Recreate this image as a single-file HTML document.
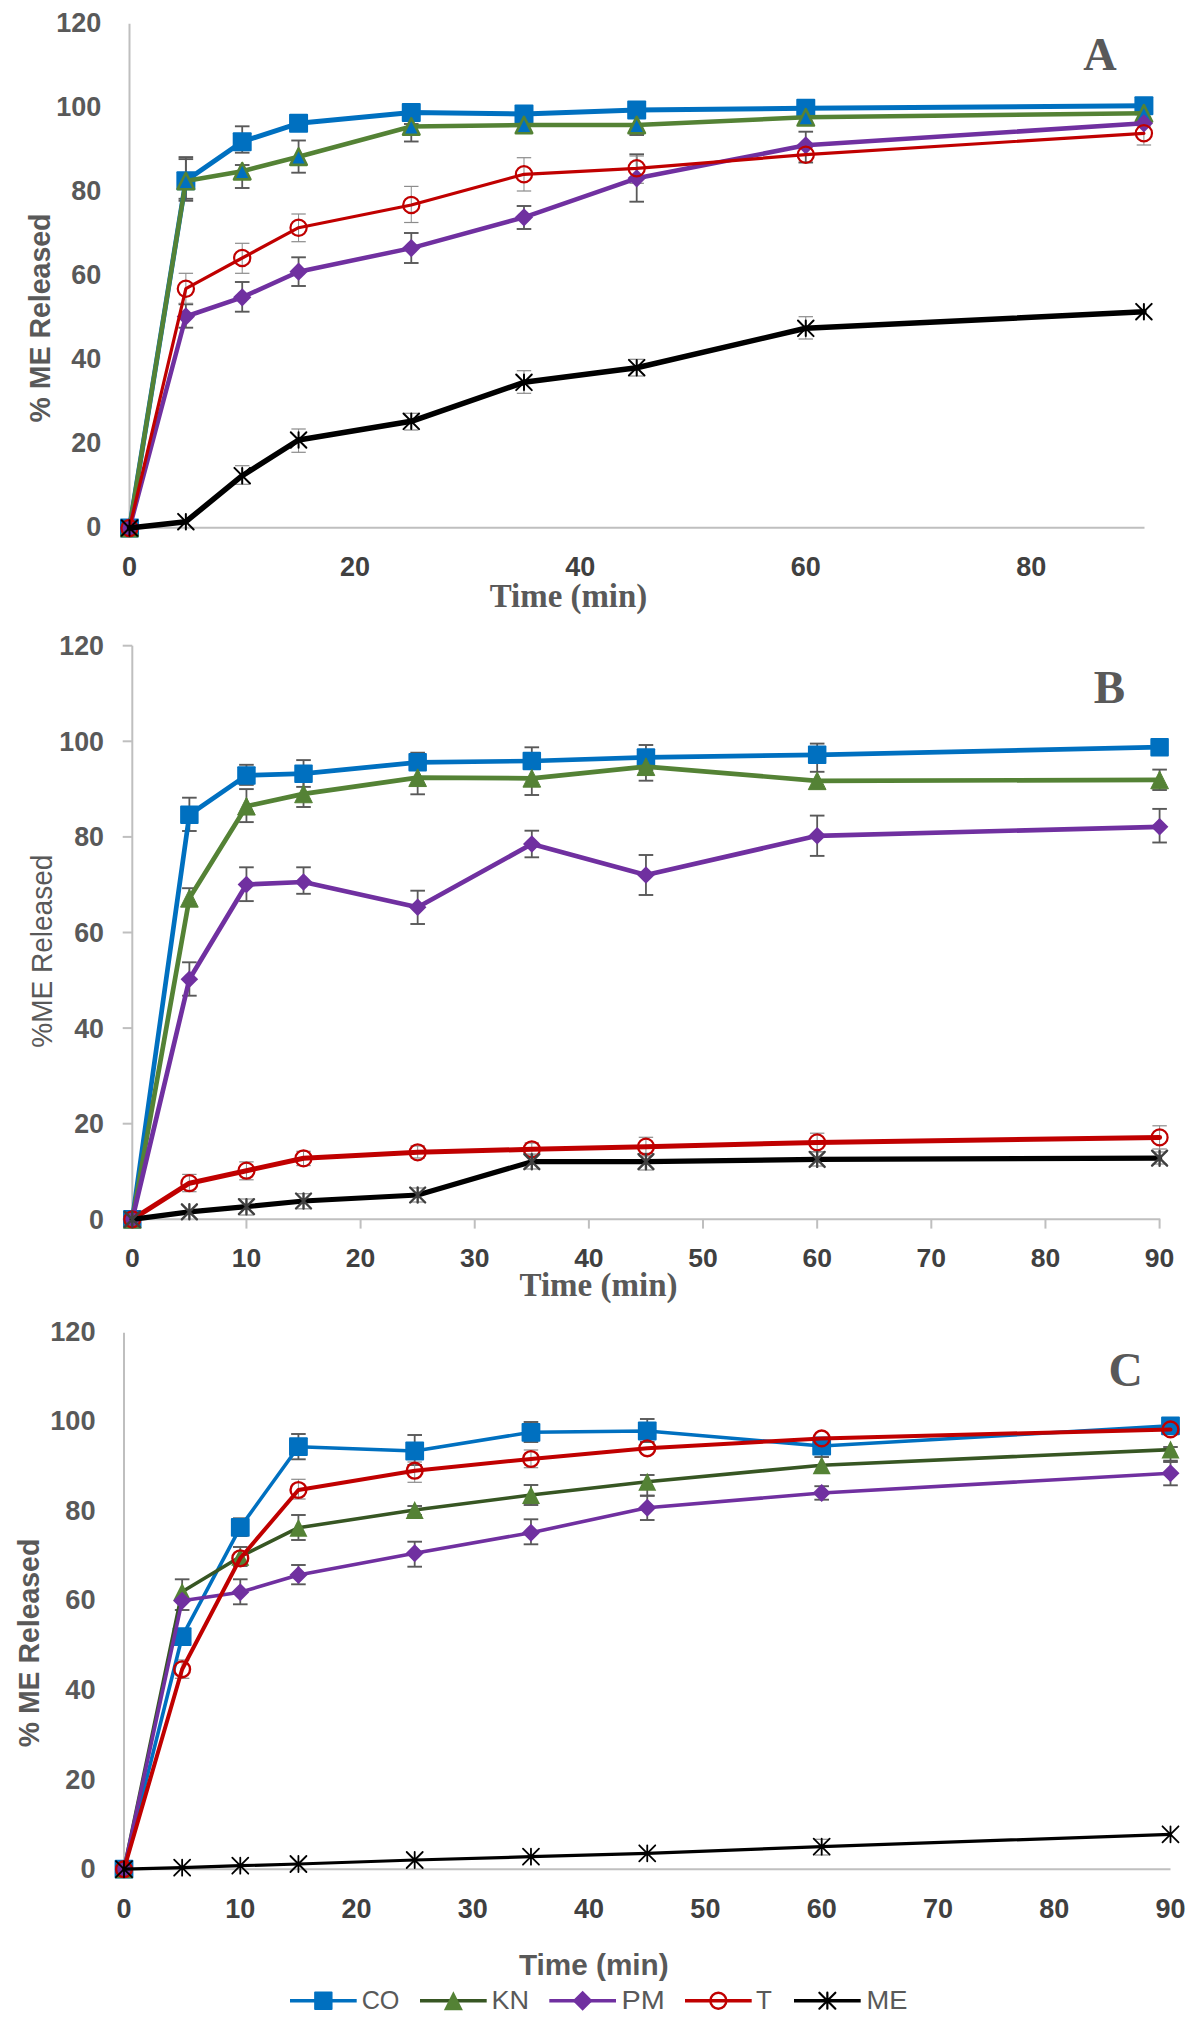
<!DOCTYPE html><html><head><meta charset="utf-8"><style>html,body{margin:0;padding:0;background:#fff;overflow:hidden;width:1194px;height:2026px;}svg{display:block;}</style></head><body>
<svg width="1194" height="2026" viewBox="0 0 1194 2026">
<rect width="1194" height="2026" fill="#ffffff"/>
<line x1="129.5" y1="23.8" x2="129.5" y2="528.8" stroke="#bfbfbf" stroke-width="2"/>
<line x1="128.5" y1="527.8" x2="1144.5" y2="527.8" stroke="#bfbfbf" stroke-width="2"/>
<text x="101.2" y="536.47" font-family='"Liberation Sans", sans-serif' font-size="27" font-weight="bold" fill="#595959" text-anchor="end" >0</text>
<text x="101.2" y="452.47" font-family='"Liberation Sans", sans-serif' font-size="27" font-weight="bold" fill="#595959" text-anchor="end" >20</text>
<text x="101.2" y="368.47" font-family='"Liberation Sans", sans-serif' font-size="27" font-weight="bold" fill="#595959" text-anchor="end" >40</text>
<text x="101.2" y="284.47" font-family='"Liberation Sans", sans-serif' font-size="27" font-weight="bold" fill="#595959" text-anchor="end" >60</text>
<text x="101.2" y="200.47" font-family='"Liberation Sans", sans-serif' font-size="27" font-weight="bold" fill="#595959" text-anchor="end" >80</text>
<text x="101.2" y="116.47" font-family='"Liberation Sans", sans-serif' font-size="27" font-weight="bold" fill="#595959" text-anchor="end" >100</text>
<text x="101.2" y="32.47" font-family='"Liberation Sans", sans-serif' font-size="27" font-weight="bold" fill="#595959" text-anchor="end" >120</text>
<text x="129.5" y="576.37" font-family='"Liberation Sans", sans-serif' font-size="27" font-weight="bold" fill="#404040" text-anchor="middle" >0</text>
<text x="354.92" y="576.37" font-family='"Liberation Sans", sans-serif' font-size="27" font-weight="bold" fill="#404040" text-anchor="middle" >20</text>
<text x="580.34" y="576.37" font-family='"Liberation Sans", sans-serif' font-size="27" font-weight="bold" fill="#404040" text-anchor="middle" >40</text>
<text x="805.77" y="576.37" font-family='"Liberation Sans", sans-serif' font-size="27" font-weight="bold" fill="#404040" text-anchor="middle" >60</text>
<text x="1031.19" y="576.37" font-family='"Liberation Sans", sans-serif' font-size="27" font-weight="bold" fill="#404040" text-anchor="middle" >80</text>
<text transform="translate(50.4 318) rotate(-90)" x="0" y="0" font-family='"Liberation Sans", sans-serif' font-size="29.3" font-weight="bold" fill="#595959" text-anchor="middle" textLength="209" lengthAdjust="spacingAndGlyphs">% ME Released</text>
<text x="568.5" y="607.3" font-family='"Liberation Serif", serif' font-size="32.9" font-weight="bold" fill="#595959" text-anchor="middle" >Time (min)</text>
<text x="1083.2" y="69.8" font-family='"Liberation Serif", serif' font-size="46.3" font-weight="bold" fill="#595959" text-anchor="start" >A</text>
<line x1="185.86" y1="157.1" x2="185.86" y2="200.8" stroke="#595959" stroke-width="1.8"/>
<rect x="178.56" y="156.15" width="14.6" height="1.9" fill="#595959"/>
<rect x="178.56" y="199.85" width="14.6" height="1.9" fill="#595959"/>
<line x1="242.21" y1="126.3" x2="242.21" y2="152.7" stroke="#595959" stroke-width="1.8"/>
<rect x="234.91" y="125.35" width="14.6" height="1.9" fill="#595959"/>
<rect x="234.91" y="151.75" width="14.6" height="1.9" fill="#595959"/>
<line x1="298.57" y1="117" x2="298.57" y2="130" stroke="#595959" stroke-width="1.8"/>
<rect x="291.27" y="116.05" width="14.6" height="1.9" fill="#595959"/>
<rect x="291.27" y="129.05" width="14.6" height="1.9" fill="#595959"/>
<line x1="185.86" y1="159.1" x2="185.86" y2="198.8" stroke="#595959" stroke-width="1.8"/>
<rect x="178.56" y="158.15" width="14.6" height="1.9" fill="#595959"/>
<rect x="178.56" y="197.85" width="14.6" height="1.9" fill="#595959"/>
<line x1="242.21" y1="165" x2="242.21" y2="188" stroke="#595959" stroke-width="1.8"/>
<rect x="234.91" y="164.05" width="14.6" height="1.9" fill="#595959"/>
<rect x="234.91" y="187.05" width="14.6" height="1.9" fill="#595959"/>
<line x1="298.57" y1="140.5" x2="298.57" y2="172.7" stroke="#595959" stroke-width="1.8"/>
<rect x="291.27" y="139.55" width="14.6" height="1.9" fill="#595959"/>
<rect x="291.27" y="171.75" width="14.6" height="1.9" fill="#595959"/>
<line x1="411.28" y1="124" x2="411.28" y2="141.5" stroke="#595959" stroke-width="1.8"/>
<rect x="403.98" y="123.05" width="14.6" height="1.9" fill="#595959"/>
<rect x="403.98" y="140.55" width="14.6" height="1.9" fill="#595959"/>
<line x1="636.7" y1="118" x2="636.7" y2="135" stroke="#595959" stroke-width="1.8"/>
<rect x="629.4" y="117.05" width="14.6" height="1.9" fill="#595959"/>
<rect x="629.4" y="134.05" width="14.6" height="1.9" fill="#595959"/>
<line x1="185.86" y1="304.3" x2="185.86" y2="327.7" stroke="#595959" stroke-width="1.8"/>
<rect x="178.56" y="303.35" width="14.6" height="1.9" fill="#595959"/>
<rect x="178.56" y="326.75" width="14.6" height="1.9" fill="#595959"/>
<line x1="242.21" y1="282" x2="242.21" y2="311.7" stroke="#595959" stroke-width="1.8"/>
<rect x="234.91" y="281.05" width="14.6" height="1.9" fill="#595959"/>
<rect x="234.91" y="310.75" width="14.6" height="1.9" fill="#595959"/>
<line x1="298.57" y1="257.3" x2="298.57" y2="286" stroke="#595959" stroke-width="1.8"/>
<rect x="291.27" y="256.35" width="14.6" height="1.9" fill="#595959"/>
<rect x="291.27" y="285.05" width="14.6" height="1.9" fill="#595959"/>
<line x1="411.28" y1="233" x2="411.28" y2="263" stroke="#595959" stroke-width="1.8"/>
<rect x="403.98" y="232.05" width="14.6" height="1.9" fill="#595959"/>
<rect x="403.98" y="262.05" width="14.6" height="1.9" fill="#595959"/>
<line x1="523.99" y1="206" x2="523.99" y2="229" stroke="#595959" stroke-width="1.8"/>
<rect x="516.69" y="205.05" width="14.6" height="1.9" fill="#595959"/>
<rect x="516.69" y="228.05" width="14.6" height="1.9" fill="#595959"/>
<line x1="636.7" y1="154.3" x2="636.7" y2="201.7" stroke="#595959" stroke-width="1.8"/>
<rect x="629.4" y="153.35" width="14.6" height="1.9" fill="#595959"/>
<rect x="629.4" y="200.75" width="14.6" height="1.9" fill="#595959"/>
<line x1="805.77" y1="131.7" x2="805.77" y2="162.5" stroke="#595959" stroke-width="1.8"/>
<rect x="798.47" y="130.75" width="14.6" height="1.9" fill="#595959"/>
<rect x="798.47" y="161.55" width="14.6" height="1.9" fill="#595959"/>
<line x1="185.86" y1="273.3" x2="185.86" y2="303.3" stroke="#8c8c8c" stroke-width="1"/>
<rect x="178.66" y="272.7" width="14.4" height="1.2" fill="#8c8c8c"/>
<rect x="178.66" y="302.7" width="14.4" height="1.2" fill="#8c8c8c"/>
<line x1="242.21" y1="243.3" x2="242.21" y2="273.3" stroke="#8c8c8c" stroke-width="1"/>
<rect x="235.01" y="242.7" width="14.4" height="1.2" fill="#8c8c8c"/>
<rect x="235.01" y="272.7" width="14.4" height="1.2" fill="#8c8c8c"/>
<line x1="298.57" y1="214" x2="298.57" y2="241.7" stroke="#8c8c8c" stroke-width="1"/>
<rect x="291.37" y="213.4" width="14.4" height="1.2" fill="#8c8c8c"/>
<rect x="291.37" y="241.1" width="14.4" height="1.2" fill="#8c8c8c"/>
<line x1="411.28" y1="186.4" x2="411.28" y2="222.5" stroke="#8c8c8c" stroke-width="1"/>
<rect x="404.08" y="185.8" width="14.4" height="1.2" fill="#8c8c8c"/>
<rect x="404.08" y="221.9" width="14.4" height="1.2" fill="#8c8c8c"/>
<line x1="523.99" y1="157.7" x2="523.99" y2="191" stroke="#8c8c8c" stroke-width="1"/>
<rect x="516.79" y="157.1" width="14.4" height="1.2" fill="#8c8c8c"/>
<rect x="516.79" y="190.4" width="14.4" height="1.2" fill="#8c8c8c"/>
<line x1="636.7" y1="156" x2="636.7" y2="183.3" stroke="#8c8c8c" stroke-width="1"/>
<rect x="629.5" y="155.4" width="14.4" height="1.2" fill="#8c8c8c"/>
<rect x="629.5" y="182.7" width="14.4" height="1.2" fill="#8c8c8c"/>
<line x1="1143.9" y1="126" x2="1143.9" y2="145" stroke="#8c8c8c" stroke-width="1"/>
<rect x="1136.7" y="125.4" width="14.4" height="1.2" fill="#8c8c8c"/>
<rect x="1136.7" y="144.4" width="14.4" height="1.2" fill="#8c8c8c"/>
<line x1="242.21" y1="465.7" x2="242.21" y2="484.3" stroke="#8c8c8c" stroke-width="1"/>
<rect x="235.01" y="465.1" width="14.4" height="1.2" fill="#8c8c8c"/>
<rect x="235.01" y="483.7" width="14.4" height="1.2" fill="#8c8c8c"/>
<line x1="298.57" y1="429" x2="298.57" y2="452.3" stroke="#8c8c8c" stroke-width="1"/>
<rect x="291.37" y="428.4" width="14.4" height="1.2" fill="#8c8c8c"/>
<rect x="291.37" y="451.7" width="14.4" height="1.2" fill="#8c8c8c"/>
<line x1="411.28" y1="413.3" x2="411.28" y2="430" stroke="#8c8c8c" stroke-width="1"/>
<rect x="404.08" y="412.7" width="14.4" height="1.2" fill="#8c8c8c"/>
<rect x="404.08" y="429.4" width="14.4" height="1.2" fill="#8c8c8c"/>
<line x1="523.99" y1="370.7" x2="523.99" y2="393.3" stroke="#8c8c8c" stroke-width="1"/>
<rect x="516.79" y="370.1" width="14.4" height="1.2" fill="#8c8c8c"/>
<rect x="516.79" y="392.7" width="14.4" height="1.2" fill="#8c8c8c"/>
<line x1="636.7" y1="359.3" x2="636.7" y2="376" stroke="#8c8c8c" stroke-width="1"/>
<rect x="629.5" y="358.7" width="14.4" height="1.2" fill="#8c8c8c"/>
<rect x="629.5" y="375.4" width="14.4" height="1.2" fill="#8c8c8c"/>
<line x1="805.77" y1="316.7" x2="805.77" y2="339" stroke="#8c8c8c" stroke-width="1"/>
<rect x="798.57" y="316.1" width="14.4" height="1.2" fill="#8c8c8c"/>
<rect x="798.57" y="338.4" width="14.4" height="1.2" fill="#8c8c8c"/>
<polyline points="129.5,528 185.86,180.7 242.21,141.7 298.57,123.3 411.28,112.5 523.99,114 636.7,110 805.77,108.3 1143.9,105.8" fill="none" stroke="#0070c0" stroke-width="5" stroke-linejoin="round" stroke-linecap="round"/>
<rect x="120" y="518.5" width="19" height="19" rx="1" fill="#0070c0"/>
<rect x="176.36" y="171.2" width="19" height="19" rx="1" fill="#0070c0"/>
<rect x="232.71" y="132.2" width="19" height="19" rx="1" fill="#0070c0"/>
<rect x="289.07" y="113.8" width="19" height="19" rx="1" fill="#0070c0"/>
<rect x="401.78" y="103" width="19" height="19" rx="1" fill="#0070c0"/>
<rect x="514.49" y="104.5" width="19" height="19" rx="1" fill="#0070c0"/>
<rect x="627.2" y="100.5" width="19" height="19" rx="1" fill="#0070c0"/>
<rect x="796.27" y="98.8" width="19" height="19" rx="1" fill="#0070c0"/>
<rect x="1134.4" y="96.3" width="19" height="19" rx="1" fill="#0070c0"/>
<polyline points="129.5,528 185.86,181 242.21,171.2 298.57,156.7 411.28,126.5 523.99,125 636.7,125 805.77,117.3 1143.9,113.3" fill="none" stroke="#548235" stroke-width="4.5" stroke-linejoin="round" stroke-linecap="round"/>
<polygon points="129.5,519.8 137.7,536.2 121.3,536.2" fill="#0070c0" stroke="#548235" stroke-width="2.6" stroke-linejoin="round"/>
<polygon points="185.86,172.8 194.06,189.2 177.66,189.2" fill="#0070c0" stroke="#548235" stroke-width="2.6" stroke-linejoin="round"/>
<polygon points="242.21,163 250.41,179.4 234.01,179.4" fill="#0070c0" stroke="#548235" stroke-width="2.6" stroke-linejoin="round"/>
<polygon points="298.57,148.5 306.77,164.9 290.37,164.9" fill="#0070c0" stroke="#548235" stroke-width="2.6" stroke-linejoin="round"/>
<polygon points="411.28,118.3 419.48,134.7 403.08,134.7" fill="#0070c0" stroke="#548235" stroke-width="2.6" stroke-linejoin="round"/>
<polygon points="523.99,116.8 532.19,133.2 515.79,133.2" fill="#0070c0" stroke="#548235" stroke-width="2.6" stroke-linejoin="round"/>
<polygon points="636.7,116.8 644.9,133.2 628.5,133.2" fill="#0070c0" stroke="#548235" stroke-width="2.6" stroke-linejoin="round"/>
<polygon points="805.77,109.1 813.97,125.5 797.57,125.5" fill="#0070c0" stroke="#548235" stroke-width="2.6" stroke-linejoin="round"/>
<polygon points="1143.9,105.1 1152.1,121.5 1135.7,121.5" fill="#0070c0" stroke="#548235" stroke-width="2.6" stroke-linejoin="round"/>
<polyline points="129.5,528 185.86,316.5 242.21,297.3 298.57,271.7 411.28,248.1 523.99,217.3 636.7,178.3 805.77,145.3 1143.9,123.3" fill="none" stroke="#7030a0" stroke-width="4.5" stroke-linejoin="round" stroke-linecap="round"/>
<polygon points="129.5,518.85 138.65,528 129.5,537.15 120.35,528" fill="#7030a0"/>
<polygon points="185.86,307.35 195.01,316.5 185.86,325.65 176.71,316.5" fill="#7030a0"/>
<polygon points="242.21,288.15 251.36,297.3 242.21,306.45 233.06,297.3" fill="#7030a0"/>
<polygon points="298.57,262.55 307.72,271.7 298.57,280.85 289.42,271.7" fill="#7030a0"/>
<polygon points="411.28,238.95 420.43,248.1 411.28,257.25 402.13,248.1" fill="#7030a0"/>
<polygon points="523.99,208.15 533.14,217.3 523.99,226.45 514.84,217.3" fill="#7030a0"/>
<polygon points="636.7,169.15 645.85,178.3 636.7,187.45 627.55,178.3" fill="#7030a0"/>
<polygon points="805.77,136.15 814.92,145.3 805.77,154.45 796.62,145.3" fill="#7030a0"/>
<polygon points="1143.9,114.15 1153.05,123.3 1143.9,132.45 1134.75,123.3" fill="#7030a0"/>
<polyline points="129.5,528 185.86,288.7 242.21,258 298.57,227.7 411.28,205 523.99,174.3 636.7,168.3 805.77,154.7 1143.9,133.3" fill="none" stroke="#c00000" stroke-width="3.2" stroke-linejoin="round" stroke-linecap="round"/>
<circle cx="129.5" cy="528" r="8.1" fill="none" stroke="#c00000" stroke-width="2.2"/>
<circle cx="185.86" cy="288.7" r="8.1" fill="none" stroke="#c00000" stroke-width="2.2"/>
<circle cx="242.21" cy="258" r="8.1" fill="none" stroke="#c00000" stroke-width="2.2"/>
<circle cx="298.57" cy="227.7" r="8.1" fill="none" stroke="#c00000" stroke-width="2.2"/>
<circle cx="411.28" cy="205" r="8.1" fill="none" stroke="#c00000" stroke-width="2.2"/>
<circle cx="523.99" cy="174.3" r="8.1" fill="none" stroke="#c00000" stroke-width="2.2"/>
<circle cx="636.7" cy="168.3" r="8.1" fill="none" stroke="#c00000" stroke-width="2.2"/>
<circle cx="805.77" cy="154.7" r="8.1" fill="none" stroke="#c00000" stroke-width="2.2"/>
<circle cx="1143.9" cy="133.3" r="8.1" fill="none" stroke="#c00000" stroke-width="2.2"/>
<polyline points="129.5,528 185.86,521.7 242.21,475.7 298.57,440 411.28,421.3 523.99,382.3 636.7,367.7 805.77,328.3 1143.9,311.7" fill="none" stroke="#000000" stroke-width="5.5" stroke-linejoin="round" stroke-linecap="round"/>
<path d="M121.7 520.2L137.3 535.8M137.3 520.2L121.7 535.8M129.5 520.2L129.5 535.8" stroke="#000000" stroke-width="2" fill="none" stroke-linecap="round"/>
<path d="M178.06 513.9L193.66 529.5M193.66 513.9L178.06 529.5M185.86 513.9L185.86 529.5" stroke="#000000" stroke-width="2" fill="none" stroke-linecap="round"/>
<path d="M234.41 467.9L250.01 483.5M250.01 467.9L234.41 483.5M242.21 467.9L242.21 483.5" stroke="#000000" stroke-width="2" fill="none" stroke-linecap="round"/>
<path d="M290.77 432.2L306.37 447.8M306.37 432.2L290.77 447.8M298.57 432.2L298.57 447.8" stroke="#000000" stroke-width="2" fill="none" stroke-linecap="round"/>
<path d="M403.48 413.5L419.08 429.1M419.08 413.5L403.48 429.1M411.28 413.5L411.28 429.1" stroke="#000000" stroke-width="2" fill="none" stroke-linecap="round"/>
<path d="M516.19 374.5L531.79 390.1M531.79 374.5L516.19 390.1M523.99 374.5L523.99 390.1" stroke="#000000" stroke-width="2" fill="none" stroke-linecap="round"/>
<path d="M628.9 359.9L644.5 375.5M644.5 359.9L628.9 375.5M636.7 359.9L636.7 375.5" stroke="#000000" stroke-width="2" fill="none" stroke-linecap="round"/>
<path d="M797.97 320.5L813.57 336.1M813.57 320.5L797.97 336.1M805.77 320.5L805.77 336.1" stroke="#000000" stroke-width="2" fill="none" stroke-linecap="round"/>
<path d="M1136.1 303.9L1151.7 319.5M1151.7 303.9L1136.1 319.5M1143.9 303.9L1143.9 319.5" stroke="#000000" stroke-width="2" fill="none" stroke-linecap="round"/>
<line x1="132.3" y1="645.7" x2="132.3" y2="1220.3" stroke="#bfbfbf" stroke-width="2"/>
<line x1="131.3" y1="1219.3" x2="1160.3" y2="1219.3" stroke="#bfbfbf" stroke-width="2"/>
<line x1="122.7" y1="1219.3" x2="132.3" y2="1219.3" stroke="#bfbfbf" stroke-width="2"/>
<line x1="122.7" y1="1123.7" x2="132.3" y2="1123.7" stroke="#bfbfbf" stroke-width="2"/>
<line x1="122.7" y1="1028.1" x2="132.3" y2="1028.1" stroke="#bfbfbf" stroke-width="2"/>
<line x1="122.7" y1="932.5" x2="132.3" y2="932.5" stroke="#bfbfbf" stroke-width="2"/>
<line x1="122.7" y1="836.9" x2="132.3" y2="836.9" stroke="#bfbfbf" stroke-width="2"/>
<line x1="122.7" y1="741.3" x2="132.3" y2="741.3" stroke="#bfbfbf" stroke-width="2"/>
<line x1="122.7" y1="645.7" x2="132.3" y2="645.7" stroke="#bfbfbf" stroke-width="2"/>
<line x1="132.3" y1="1219.3" x2="132.3" y2="1228.6" stroke="#bfbfbf" stroke-width="2"/>
<line x1="246.44" y1="1219.3" x2="246.44" y2="1228.6" stroke="#bfbfbf" stroke-width="2"/>
<line x1="360.59" y1="1219.3" x2="360.59" y2="1228.6" stroke="#bfbfbf" stroke-width="2"/>
<line x1="474.73" y1="1219.3" x2="474.73" y2="1228.6" stroke="#bfbfbf" stroke-width="2"/>
<line x1="588.88" y1="1219.3" x2="588.88" y2="1228.6" stroke="#bfbfbf" stroke-width="2"/>
<line x1="703.02" y1="1219.3" x2="703.02" y2="1228.6" stroke="#bfbfbf" stroke-width="2"/>
<line x1="817.17" y1="1219.3" x2="817.17" y2="1228.6" stroke="#bfbfbf" stroke-width="2"/>
<line x1="931.31" y1="1219.3" x2="931.31" y2="1228.6" stroke="#bfbfbf" stroke-width="2"/>
<line x1="1045.46" y1="1219.3" x2="1045.46" y2="1228.6" stroke="#bfbfbf" stroke-width="2"/>
<line x1="1159.6" y1="1219.3" x2="1159.6" y2="1228.6" stroke="#bfbfbf" stroke-width="2"/>
<text x="104" y="1228.89" font-family='"Liberation Sans", sans-serif' font-size="26.8" font-weight="bold" fill="#595959" text-anchor="end" >0</text>
<text x="104" y="1133.29" font-family='"Liberation Sans", sans-serif' font-size="26.8" font-weight="bold" fill="#595959" text-anchor="end" >20</text>
<text x="104" y="1037.69" font-family='"Liberation Sans", sans-serif' font-size="26.8" font-weight="bold" fill="#595959" text-anchor="end" >40</text>
<text x="104" y="942.09" font-family='"Liberation Sans", sans-serif' font-size="26.8" font-weight="bold" fill="#595959" text-anchor="end" >60</text>
<text x="104" y="846.49" font-family='"Liberation Sans", sans-serif' font-size="26.8" font-weight="bold" fill="#595959" text-anchor="end" >80</text>
<text x="104" y="750.89" font-family='"Liberation Sans", sans-serif' font-size="26.8" font-weight="bold" fill="#595959" text-anchor="end" >100</text>
<text x="104" y="655.29" font-family='"Liberation Sans", sans-serif' font-size="26.8" font-weight="bold" fill="#595959" text-anchor="end" >120</text>
<text x="132.3" y="1267.29" font-family='"Liberation Sans", sans-serif' font-size="26.5" font-weight="bold" fill="#404040" text-anchor="middle" >0</text>
<text x="246.44" y="1267.29" font-family='"Liberation Sans", sans-serif' font-size="26.5" font-weight="bold" fill="#404040" text-anchor="middle" >10</text>
<text x="360.59" y="1267.29" font-family='"Liberation Sans", sans-serif' font-size="26.5" font-weight="bold" fill="#404040" text-anchor="middle" >20</text>
<text x="474.73" y="1267.29" font-family='"Liberation Sans", sans-serif' font-size="26.5" font-weight="bold" fill="#404040" text-anchor="middle" >30</text>
<text x="588.88" y="1267.29" font-family='"Liberation Sans", sans-serif' font-size="26.5" font-weight="bold" fill="#404040" text-anchor="middle" >40</text>
<text x="703.02" y="1267.29" font-family='"Liberation Sans", sans-serif' font-size="26.5" font-weight="bold" fill="#404040" text-anchor="middle" >50</text>
<text x="817.17" y="1267.29" font-family='"Liberation Sans", sans-serif' font-size="26.5" font-weight="bold" fill="#404040" text-anchor="middle" >60</text>
<text x="931.31" y="1267.29" font-family='"Liberation Sans", sans-serif' font-size="26.5" font-weight="bold" fill="#404040" text-anchor="middle" >70</text>
<text x="1045.46" y="1267.29" font-family='"Liberation Sans", sans-serif' font-size="26.5" font-weight="bold" fill="#404040" text-anchor="middle" >80</text>
<text x="1159.6" y="1267.29" font-family='"Liberation Sans", sans-serif' font-size="26.5" font-weight="bold" fill="#404040" text-anchor="middle" >90</text>
<text transform="translate(52 951.2) rotate(-90)" x="0" y="0" font-family='"Liberation Sans", sans-serif' font-size="29.3" font-weight="normal" fill="#595959" text-anchor="middle" textLength="193.2" lengthAdjust="spacingAndGlyphs">%ME Released</text>
<text x="598.5" y="1295.7" font-family='"Liberation Serif", serif' font-size="33" font-weight="bold" fill="#595959" text-anchor="middle" >Time (min)</text>
<text x="1093.7" y="703.4" font-family='"Liberation Serif", serif' font-size="47" font-weight="bold" fill="#595959" text-anchor="start" >B</text>
<line x1="189.37" y1="797.7" x2="189.37" y2="831" stroke="#595959" stroke-width="1.8"/>
<rect x="182.07" y="796.75" width="14.6" height="1.9" fill="#595959"/>
<rect x="182.07" y="830.05" width="14.6" height="1.9" fill="#595959"/>
<line x1="246.44" y1="764.8" x2="246.44" y2="784.9" stroke="#595959" stroke-width="1.8"/>
<rect x="239.14" y="763.85" width="14.6" height="1.9" fill="#595959"/>
<rect x="239.14" y="783.95" width="14.6" height="1.9" fill="#595959"/>
<line x1="303.52" y1="760.1" x2="303.52" y2="786.9" stroke="#595959" stroke-width="1.8"/>
<rect x="296.22" y="759.15" width="14.6" height="1.9" fill="#595959"/>
<rect x="296.22" y="785.95" width="14.6" height="1.9" fill="#595959"/>
<line x1="417.66" y1="752.7" x2="417.66" y2="770" stroke="#595959" stroke-width="1.8"/>
<rect x="410.36" y="751.75" width="14.6" height="1.9" fill="#595959"/>
<rect x="410.36" y="769.05" width="14.6" height="1.9" fill="#595959"/>
<line x1="531.81" y1="747.3" x2="531.81" y2="768" stroke="#595959" stroke-width="1.8"/>
<rect x="524.51" y="746.35" width="14.6" height="1.9" fill="#595959"/>
<rect x="524.51" y="767.05" width="14.6" height="1.9" fill="#595959"/>
<line x1="645.95" y1="745" x2="645.95" y2="770" stroke="#595959" stroke-width="1.8"/>
<rect x="638.65" y="744.05" width="14.6" height="1.9" fill="#595959"/>
<rect x="638.65" y="769.05" width="14.6" height="1.9" fill="#595959"/>
<line x1="817.17" y1="743.6" x2="817.17" y2="771.8" stroke="#595959" stroke-width="1.8"/>
<rect x="809.87" y="742.65" width="14.6" height="1.9" fill="#595959"/>
<rect x="809.87" y="770.85" width="14.6" height="1.9" fill="#595959"/>
<line x1="189.37" y1="888.2" x2="189.37" y2="905" stroke="#595959" stroke-width="1.8"/>
<rect x="182.07" y="887.25" width="14.6" height="1.9" fill="#595959"/>
<rect x="182.07" y="904.05" width="14.6" height="1.9" fill="#595959"/>
<line x1="246.44" y1="789.1" x2="246.44" y2="822.1" stroke="#595959" stroke-width="1.8"/>
<rect x="239.14" y="788.15" width="14.6" height="1.9" fill="#595959"/>
<rect x="239.14" y="821.15" width="14.6" height="1.9" fill="#595959"/>
<line x1="303.52" y1="782" x2="303.52" y2="807" stroke="#595959" stroke-width="1.8"/>
<rect x="296.22" y="781.05" width="14.6" height="1.9" fill="#595959"/>
<rect x="296.22" y="806.05" width="14.6" height="1.9" fill="#595959"/>
<line x1="417.66" y1="764" x2="417.66" y2="794.3" stroke="#595959" stroke-width="1.8"/>
<rect x="410.36" y="763.05" width="14.6" height="1.9" fill="#595959"/>
<rect x="410.36" y="793.35" width="14.6" height="1.9" fill="#595959"/>
<line x1="531.81" y1="766" x2="531.81" y2="795" stroke="#595959" stroke-width="1.8"/>
<rect x="524.51" y="765.05" width="14.6" height="1.9" fill="#595959"/>
<rect x="524.51" y="794.05" width="14.6" height="1.9" fill="#595959"/>
<line x1="645.95" y1="752.7" x2="645.95" y2="780.7" stroke="#595959" stroke-width="1.8"/>
<rect x="638.65" y="751.75" width="14.6" height="1.9" fill="#595959"/>
<rect x="638.65" y="779.75" width="14.6" height="1.9" fill="#595959"/>
<line x1="1159.6" y1="769.6" x2="1159.6" y2="790" stroke="#595959" stroke-width="1.8"/>
<rect x="1152.3" y="768.65" width="14.6" height="1.9" fill="#595959"/>
<rect x="1152.3" y="789.05" width="14.6" height="1.9" fill="#595959"/>
<line x1="189.37" y1="962.3" x2="189.37" y2="995.7" stroke="#595959" stroke-width="1.8"/>
<rect x="182.07" y="961.35" width="14.6" height="1.9" fill="#595959"/>
<rect x="182.07" y="994.75" width="14.6" height="1.9" fill="#595959"/>
<line x1="246.44" y1="867.3" x2="246.44" y2="901.1" stroke="#595959" stroke-width="1.8"/>
<rect x="239.14" y="866.35" width="14.6" height="1.9" fill="#595959"/>
<rect x="239.14" y="900.15" width="14.6" height="1.9" fill="#595959"/>
<line x1="303.52" y1="867.3" x2="303.52" y2="893.8" stroke="#595959" stroke-width="1.8"/>
<rect x="296.22" y="866.35" width="14.6" height="1.9" fill="#595959"/>
<rect x="296.22" y="892.85" width="14.6" height="1.9" fill="#595959"/>
<line x1="417.66" y1="890.7" x2="417.66" y2="924" stroke="#595959" stroke-width="1.8"/>
<rect x="410.36" y="889.75" width="14.6" height="1.9" fill="#595959"/>
<rect x="410.36" y="923.05" width="14.6" height="1.9" fill="#595959"/>
<line x1="531.81" y1="830.7" x2="531.81" y2="857.3" stroke="#595959" stroke-width="1.8"/>
<rect x="524.51" y="829.75" width="14.6" height="1.9" fill="#595959"/>
<rect x="524.51" y="856.35" width="14.6" height="1.9" fill="#595959"/>
<line x1="645.95" y1="855" x2="645.95" y2="895" stroke="#595959" stroke-width="1.8"/>
<rect x="638.65" y="854.05" width="14.6" height="1.9" fill="#595959"/>
<rect x="638.65" y="894.05" width="14.6" height="1.9" fill="#595959"/>
<line x1="817.17" y1="815.6" x2="817.17" y2="855.9" stroke="#595959" stroke-width="1.8"/>
<rect x="809.87" y="814.65" width="14.6" height="1.9" fill="#595959"/>
<rect x="809.87" y="854.95" width="14.6" height="1.9" fill="#595959"/>
<line x1="1159.6" y1="808.9" x2="1159.6" y2="842.5" stroke="#595959" stroke-width="1.8"/>
<rect x="1152.3" y="807.95" width="14.6" height="1.9" fill="#595959"/>
<rect x="1152.3" y="841.55" width="14.6" height="1.9" fill="#595959"/>
<line x1="189.37" y1="1174.4" x2="189.37" y2="1191.7" stroke="#8c8c8c" stroke-width="1"/>
<rect x="182.17" y="1173.8" width="14.4" height="1.2" fill="#8c8c8c"/>
<rect x="182.17" y="1191.1" width="14.4" height="1.2" fill="#8c8c8c"/>
<line x1="246.44" y1="1161.9" x2="246.44" y2="1179.8" stroke="#8c8c8c" stroke-width="1"/>
<rect x="239.24" y="1161.3" width="14.4" height="1.2" fill="#8c8c8c"/>
<rect x="239.24" y="1179.2" width="14.4" height="1.2" fill="#8c8c8c"/>
<line x1="303.52" y1="1151.3" x2="303.52" y2="1165.6" stroke="#8c8c8c" stroke-width="1"/>
<rect x="296.32" y="1150.7" width="14.4" height="1.2" fill="#8c8c8c"/>
<rect x="296.32" y="1165" width="14.4" height="1.2" fill="#8c8c8c"/>
<line x1="417.66" y1="1146" x2="417.66" y2="1158" stroke="#8c8c8c" stroke-width="1"/>
<rect x="410.46" y="1145.4" width="14.4" height="1.2" fill="#8c8c8c"/>
<rect x="410.46" y="1157.4" width="14.4" height="1.2" fill="#8c8c8c"/>
<line x1="531.81" y1="1143" x2="531.81" y2="1155" stroke="#8c8c8c" stroke-width="1"/>
<rect x="524.61" y="1142.4" width="14.4" height="1.2" fill="#8c8c8c"/>
<rect x="524.61" y="1154.4" width="14.4" height="1.2" fill="#8c8c8c"/>
<line x1="645.95" y1="1137.3" x2="645.95" y2="1156" stroke="#8c8c8c" stroke-width="1"/>
<rect x="638.75" y="1136.7" width="14.4" height="1.2" fill="#8c8c8c"/>
<rect x="638.75" y="1155.4" width="14.4" height="1.2" fill="#8c8c8c"/>
<line x1="817.17" y1="1133.2" x2="817.17" y2="1151.6" stroke="#8c8c8c" stroke-width="1"/>
<rect x="809.97" y="1132.6" width="14.4" height="1.2" fill="#8c8c8c"/>
<rect x="809.97" y="1151" width="14.4" height="1.2" fill="#8c8c8c"/>
<line x1="1159.6" y1="1125.8" x2="1159.6" y2="1149" stroke="#8c8c8c" stroke-width="1"/>
<rect x="1152.4" y="1125.2" width="14.4" height="1.2" fill="#8c8c8c"/>
<rect x="1152.4" y="1148.4" width="14.4" height="1.2" fill="#8c8c8c"/>
<line x1="246.44" y1="1199" x2="246.44" y2="1215" stroke="#8c8c8c" stroke-width="1"/>
<rect x="239.24" y="1198.4" width="14.4" height="1.2" fill="#8c8c8c"/>
<rect x="239.24" y="1214.4" width="14.4" height="1.2" fill="#8c8c8c"/>
<line x1="303.52" y1="1193.7" x2="303.52" y2="1208.8" stroke="#8c8c8c" stroke-width="1"/>
<rect x="296.32" y="1193.1" width="14.4" height="1.2" fill="#8c8c8c"/>
<rect x="296.32" y="1208.2" width="14.4" height="1.2" fill="#8c8c8c"/>
<line x1="417.66" y1="1188" x2="417.66" y2="1202" stroke="#8c8c8c" stroke-width="1"/>
<rect x="410.46" y="1187.4" width="14.4" height="1.2" fill="#8c8c8c"/>
<rect x="410.46" y="1201.4" width="14.4" height="1.2" fill="#8c8c8c"/>
<line x1="531.81" y1="1154" x2="531.81" y2="1169" stroke="#8c8c8c" stroke-width="1"/>
<rect x="524.61" y="1153.4" width="14.4" height="1.2" fill="#8c8c8c"/>
<rect x="524.61" y="1168.4" width="14.4" height="1.2" fill="#8c8c8c"/>
<line x1="645.95" y1="1153.3" x2="645.95" y2="1170" stroke="#8c8c8c" stroke-width="1"/>
<rect x="638.75" y="1152.7" width="14.4" height="1.2" fill="#8c8c8c"/>
<rect x="638.75" y="1169.4" width="14.4" height="1.2" fill="#8c8c8c"/>
<line x1="817.17" y1="1152" x2="817.17" y2="1166" stroke="#8c8c8c" stroke-width="1"/>
<rect x="809.97" y="1151.4" width="14.4" height="1.2" fill="#8c8c8c"/>
<rect x="809.97" y="1165.4" width="14.4" height="1.2" fill="#8c8c8c"/>
<line x1="1159.6" y1="1152" x2="1159.6" y2="1164" stroke="#8c8c8c" stroke-width="1"/>
<rect x="1152.4" y="1151.4" width="14.4" height="1.2" fill="#8c8c8c"/>
<rect x="1152.4" y="1163.4" width="14.4" height="1.2" fill="#8c8c8c"/>
<polyline points="132.3,1219.3 189.37,814.8 246.44,775.4 303.52,773.7 417.66,762.3 531.81,761 645.95,757.4 817.17,754.8 1159.6,747.2" fill="none" stroke="#0070c0" stroke-width="4.7" stroke-linejoin="round" stroke-linecap="round"/>
<rect x="123.05" y="1210.05" width="18.5" height="18.5" rx="1" fill="#0070c0"/>
<rect x="180.12" y="805.55" width="18.5" height="18.5" rx="1" fill="#0070c0"/>
<rect x="237.19" y="766.15" width="18.5" height="18.5" rx="1" fill="#0070c0"/>
<rect x="294.27" y="764.45" width="18.5" height="18.5" rx="1" fill="#0070c0"/>
<rect x="408.41" y="753.05" width="18.5" height="18.5" rx="1" fill="#0070c0"/>
<rect x="522.56" y="751.75" width="18.5" height="18.5" rx="1" fill="#0070c0"/>
<rect x="636.7" y="748.15" width="18.5" height="18.5" rx="1" fill="#0070c0"/>
<rect x="807.92" y="745.55" width="18.5" height="18.5" rx="1" fill="#0070c0"/>
<rect x="1150.35" y="737.95" width="18.5" height="18.5" rx="1" fill="#0070c0"/>
<polyline points="132.3,1219.3 189.37,898.3 246.44,806.2 303.52,793.9 417.66,777.7 531.81,778.3 645.95,766.7 817.17,780.8 1159.6,779.9" fill="none" stroke="#548235" stroke-width="4.7" stroke-linejoin="round" stroke-linecap="round"/>
<polygon points="132.3,1210.45 141.15,1228.15 123.45,1228.15" fill="#548235" stroke="#548235" stroke-width="1" stroke-linejoin="round"/>
<polygon points="189.37,889.45 198.22,907.15 180.52,907.15" fill="#548235" stroke="#548235" stroke-width="1" stroke-linejoin="round"/>
<polygon points="246.44,797.35 255.29,815.05 237.59,815.05" fill="#548235" stroke="#548235" stroke-width="1" stroke-linejoin="round"/>
<polygon points="303.52,785.05 312.37,802.75 294.67,802.75" fill="#548235" stroke="#548235" stroke-width="1" stroke-linejoin="round"/>
<polygon points="417.66,768.85 426.51,786.55 408.81,786.55" fill="#548235" stroke="#548235" stroke-width="1" stroke-linejoin="round"/>
<polygon points="531.81,769.45 540.66,787.15 522.96,787.15" fill="#548235" stroke="#548235" stroke-width="1" stroke-linejoin="round"/>
<polygon points="645.95,757.85 654.8,775.55 637.1,775.55" fill="#548235" stroke="#548235" stroke-width="1" stroke-linejoin="round"/>
<polygon points="817.17,771.95 826.02,789.65 808.32,789.65" fill="#548235" stroke="#548235" stroke-width="1" stroke-linejoin="round"/>
<polygon points="1159.6,771.05 1168.45,788.75 1150.75,788.75" fill="#548235" stroke="#548235" stroke-width="1" stroke-linejoin="round"/>
<polyline points="132.3,1219.3 189.37,979.3 246.44,884.5 303.52,882 417.66,907.3 531.81,844 645.95,875 817.17,835.8 1159.6,826.8" fill="none" stroke="#7030a0" stroke-width="4.7" stroke-linejoin="round" stroke-linecap="round"/>
<polygon points="132.3,1210.5 141.1,1219.3 132.3,1228.1 123.5,1219.3" fill="#7030a0"/>
<polygon points="189.37,970.5 198.17,979.3 189.37,988.1 180.57,979.3" fill="#7030a0"/>
<polygon points="246.44,875.7 255.24,884.5 246.44,893.3 237.64,884.5" fill="#7030a0"/>
<polygon points="303.52,873.2 312.32,882 303.52,890.8 294.72,882" fill="#7030a0"/>
<polygon points="417.66,898.5 426.46,907.3 417.66,916.1 408.86,907.3" fill="#7030a0"/>
<polygon points="531.81,835.2 540.61,844 531.81,852.8 523.01,844" fill="#7030a0"/>
<polygon points="645.95,866.2 654.75,875 645.95,883.8 637.15,875" fill="#7030a0"/>
<polygon points="817.17,827 825.97,835.8 817.17,844.6 808.37,835.8" fill="#7030a0"/>
<polygon points="1159.6,818 1168.4,826.8 1159.6,835.6 1150.8,826.8" fill="#7030a0"/>
<polyline points="132.3,1219.3 189.37,1183.2 246.44,1170.7 303.52,1158.3 417.66,1152.3 531.81,1149.3 645.95,1146.7 817.17,1142.4 1159.6,1137.4" fill="none" stroke="#c00000" stroke-width="5" stroke-linejoin="round" stroke-linecap="round"/>
<circle cx="132.3" cy="1219.3" r="8" fill="none" stroke="#c00000" stroke-width="2.2"/>
<circle cx="189.37" cy="1183.2" r="8" fill="none" stroke="#c00000" stroke-width="2.2"/>
<circle cx="246.44" cy="1170.7" r="8" fill="none" stroke="#c00000" stroke-width="2.2"/>
<circle cx="303.52" cy="1158.3" r="8" fill="none" stroke="#c00000" stroke-width="2.2"/>
<circle cx="417.66" cy="1152.3" r="8" fill="none" stroke="#c00000" stroke-width="2.2"/>
<circle cx="531.81" cy="1149.3" r="8" fill="none" stroke="#c00000" stroke-width="2.2"/>
<circle cx="645.95" cy="1146.7" r="8" fill="none" stroke="#c00000" stroke-width="2.2"/>
<circle cx="817.17" cy="1142.4" r="8" fill="none" stroke="#c00000" stroke-width="2.2"/>
<circle cx="1159.6" cy="1137.4" r="8" fill="none" stroke="#c00000" stroke-width="2.2"/>
<polyline points="132.3,1219.3 189.37,1211.8 246.44,1206.7 303.52,1201 417.66,1195 531.81,1161.7 645.95,1161.7 817.17,1159.4 1159.6,1158.2" fill="none" stroke="#000000" stroke-width="5.2" stroke-linejoin="round" stroke-linecap="round"/>
<path d="M124.8 1211.8L139.8 1226.8M139.8 1211.8L124.8 1226.8M132.3 1211.8L132.3 1226.8" stroke="#404040" stroke-width="2.4" fill="none" stroke-linecap="round"/>
<path d="M181.87 1204.3L196.87 1219.3M196.87 1204.3L181.87 1219.3M189.37 1204.3L189.37 1219.3" stroke="#404040" stroke-width="2.4" fill="none" stroke-linecap="round"/>
<path d="M238.94 1199.2L253.94 1214.2M253.94 1199.2L238.94 1214.2M246.44 1199.2L246.44 1214.2" stroke="#404040" stroke-width="2.4" fill="none" stroke-linecap="round"/>
<path d="M296.02 1193.5L311.02 1208.5M311.02 1193.5L296.02 1208.5M303.52 1193.5L303.52 1208.5" stroke="#404040" stroke-width="2.4" fill="none" stroke-linecap="round"/>
<path d="M410.16 1187.5L425.16 1202.5M425.16 1187.5L410.16 1202.5M417.66 1187.5L417.66 1202.5" stroke="#404040" stroke-width="2.4" fill="none" stroke-linecap="round"/>
<path d="M524.31 1154.2L539.31 1169.2M539.31 1154.2L524.31 1169.2M531.81 1154.2L531.81 1169.2" stroke="#404040" stroke-width="2.4" fill="none" stroke-linecap="round"/>
<path d="M638.45 1154.2L653.45 1169.2M653.45 1154.2L638.45 1169.2M645.95 1154.2L645.95 1169.2" stroke="#404040" stroke-width="2.4" fill="none" stroke-linecap="round"/>
<path d="M809.67 1151.9L824.67 1166.9M824.67 1151.9L809.67 1166.9M817.17 1151.9L817.17 1166.9" stroke="#404040" stroke-width="2.4" fill="none" stroke-linecap="round"/>
<path d="M1152.1 1150.7L1167.1 1165.7M1167.1 1150.7L1152.1 1165.7M1159.6 1150.7L1159.6 1165.7" stroke="#404040" stroke-width="2.4" fill="none" stroke-linecap="round"/>
<line x1="124" y1="1332.7" x2="124" y2="1870.2" stroke="#bfbfbf" stroke-width="2"/>
<line x1="123" y1="1869.2" x2="1170.5" y2="1869.2" stroke="#bfbfbf" stroke-width="2"/>
<text x="95.6" y="1878.34" font-family='"Liberation Sans", sans-serif' font-size="27.2" font-weight="bold" fill="#595959" text-anchor="end" >0</text>
<text x="95.6" y="1788.72" font-family='"Liberation Sans", sans-serif' font-size="27.2" font-weight="bold" fill="#595959" text-anchor="end" >20</text>
<text x="95.6" y="1699.1" font-family='"Liberation Sans", sans-serif' font-size="27.2" font-weight="bold" fill="#595959" text-anchor="end" >40</text>
<text x="95.6" y="1609.48" font-family='"Liberation Sans", sans-serif' font-size="27.2" font-weight="bold" fill="#595959" text-anchor="end" >60</text>
<text x="95.6" y="1519.86" font-family='"Liberation Sans", sans-serif' font-size="27.2" font-weight="bold" fill="#595959" text-anchor="end" >80</text>
<text x="95.6" y="1430.24" font-family='"Liberation Sans", sans-serif' font-size="27.2" font-weight="bold" fill="#595959" text-anchor="end" >100</text>
<text x="95.6" y="1340.62" font-family='"Liberation Sans", sans-serif' font-size="27.2" font-weight="bold" fill="#595959" text-anchor="end" >120</text>
<text x="124" y="1917.67" font-family='"Liberation Sans", sans-serif' font-size="27" font-weight="bold" fill="#404040" text-anchor="middle" >0</text>
<text x="240.28" y="1917.67" font-family='"Liberation Sans", sans-serif' font-size="27" font-weight="bold" fill="#404040" text-anchor="middle" >10</text>
<text x="356.56" y="1917.67" font-family='"Liberation Sans", sans-serif' font-size="27" font-weight="bold" fill="#404040" text-anchor="middle" >20</text>
<text x="472.83" y="1917.67" font-family='"Liberation Sans", sans-serif' font-size="27" font-weight="bold" fill="#404040" text-anchor="middle" >30</text>
<text x="589.11" y="1917.67" font-family='"Liberation Sans", sans-serif' font-size="27" font-weight="bold" fill="#404040" text-anchor="middle" >40</text>
<text x="705.39" y="1917.67" font-family='"Liberation Sans", sans-serif' font-size="27" font-weight="bold" fill="#404040" text-anchor="middle" >50</text>
<text x="821.67" y="1917.67" font-family='"Liberation Sans", sans-serif' font-size="27" font-weight="bold" fill="#404040" text-anchor="middle" >60</text>
<text x="937.94" y="1917.67" font-family='"Liberation Sans", sans-serif' font-size="27" font-weight="bold" fill="#404040" text-anchor="middle" >70</text>
<text x="1054.22" y="1917.67" font-family='"Liberation Sans", sans-serif' font-size="27" font-weight="bold" fill="#404040" text-anchor="middle" >80</text>
<text x="1170.5" y="1917.67" font-family='"Liberation Sans", sans-serif' font-size="27" font-weight="bold" fill="#404040" text-anchor="middle" >90</text>
<text transform="translate(39.1 1643) rotate(-90)" x="0" y="0" font-family='"Liberation Sans", sans-serif' font-size="29" font-weight="bold" fill="#595959" text-anchor="middle" textLength="208.6" lengthAdjust="spacingAndGlyphs">% ME Released</text>
<text transform="translate(593.8 1975.3) scale(1.04 1)" font-family='"Liberation Sans", sans-serif' font-size="28.6" font-weight="bold" fill="#595959" text-anchor="middle">Time (min)</text>
<text x="1108.6" y="1386" font-family='"Liberation Serif", serif' font-size="47.5" font-weight="bold" fill="#595959" text-anchor="start" >C</text>
<line x1="240.28" y1="1518.3" x2="240.28" y2="1536" stroke="#595959" stroke-width="1.8"/>
<rect x="232.98" y="1517.35" width="14.6" height="1.9" fill="#595959"/>
<rect x="232.98" y="1535.05" width="14.6" height="1.9" fill="#595959"/>
<line x1="298.42" y1="1434" x2="298.42" y2="1459.3" stroke="#595959" stroke-width="1.8"/>
<rect x="291.12" y="1433.05" width="14.6" height="1.9" fill="#595959"/>
<rect x="291.12" y="1458.35" width="14.6" height="1.9" fill="#595959"/>
<line x1="414.69" y1="1435" x2="414.69" y2="1465" stroke="#595959" stroke-width="1.8"/>
<rect x="407.39" y="1434.05" width="14.6" height="1.9" fill="#595959"/>
<rect x="407.39" y="1464.05" width="14.6" height="1.9" fill="#595959"/>
<line x1="530.97" y1="1422" x2="530.97" y2="1442" stroke="#595959" stroke-width="1.8"/>
<rect x="523.67" y="1421.05" width="14.6" height="1.9" fill="#595959"/>
<rect x="523.67" y="1441.05" width="14.6" height="1.9" fill="#595959"/>
<line x1="647.25" y1="1419" x2="647.25" y2="1442" stroke="#595959" stroke-width="1.8"/>
<rect x="639.95" y="1418.05" width="14.6" height="1.9" fill="#595959"/>
<rect x="639.95" y="1441.05" width="14.6" height="1.9" fill="#595959"/>
<line x1="821.67" y1="1440" x2="821.67" y2="1457" stroke="#595959" stroke-width="1.8"/>
<rect x="814.37" y="1439.05" width="14.6" height="1.9" fill="#595959"/>
<rect x="814.37" y="1456.05" width="14.6" height="1.9" fill="#595959"/>
<line x1="182.14" y1="1579.3" x2="182.14" y2="1610" stroke="#595959" stroke-width="1.8"/>
<rect x="174.84" y="1578.35" width="14.6" height="1.9" fill="#595959"/>
<rect x="174.84" y="1609.05" width="14.6" height="1.9" fill="#595959"/>
<line x1="240.28" y1="1547" x2="240.28" y2="1566" stroke="#595959" stroke-width="1.8"/>
<rect x="232.98" y="1546.05" width="14.6" height="1.9" fill="#595959"/>
<rect x="232.98" y="1565.05" width="14.6" height="1.9" fill="#595959"/>
<line x1="298.42" y1="1515" x2="298.42" y2="1540" stroke="#595959" stroke-width="1.8"/>
<rect x="291.12" y="1514.05" width="14.6" height="1.9" fill="#595959"/>
<rect x="291.12" y="1539.05" width="14.6" height="1.9" fill="#595959"/>
<line x1="414.69" y1="1506" x2="414.69" y2="1515" stroke="#595959" stroke-width="1.8"/>
<rect x="407.39" y="1505.05" width="14.6" height="1.9" fill="#595959"/>
<rect x="407.39" y="1514.05" width="14.6" height="1.9" fill="#595959"/>
<line x1="530.97" y1="1485" x2="530.97" y2="1505" stroke="#595959" stroke-width="1.8"/>
<rect x="523.67" y="1484.05" width="14.6" height="1.9" fill="#595959"/>
<rect x="523.67" y="1504.05" width="14.6" height="1.9" fill="#595959"/>
<line x1="647.25" y1="1475" x2="647.25" y2="1495.7" stroke="#595959" stroke-width="1.8"/>
<rect x="639.95" y="1474.05" width="14.6" height="1.9" fill="#595959"/>
<rect x="639.95" y="1494.75" width="14.6" height="1.9" fill="#595959"/>
<line x1="1170.5" y1="1447" x2="1170.5" y2="1460.7" stroke="#595959" stroke-width="1.8"/>
<rect x="1163.2" y="1446.05" width="14.6" height="1.9" fill="#595959"/>
<rect x="1163.2" y="1459.75" width="14.6" height="1.9" fill="#595959"/>
<line x1="240.28" y1="1579.3" x2="240.28" y2="1604.3" stroke="#595959" stroke-width="1.8"/>
<rect x="232.98" y="1578.35" width="14.6" height="1.9" fill="#595959"/>
<rect x="232.98" y="1603.35" width="14.6" height="1.9" fill="#595959"/>
<line x1="298.42" y1="1565" x2="298.42" y2="1584.3" stroke="#595959" stroke-width="1.8"/>
<rect x="291.12" y="1564.05" width="14.6" height="1.9" fill="#595959"/>
<rect x="291.12" y="1583.35" width="14.6" height="1.9" fill="#595959"/>
<line x1="414.69" y1="1541.7" x2="414.69" y2="1566.7" stroke="#595959" stroke-width="1.8"/>
<rect x="407.39" y="1540.75" width="14.6" height="1.9" fill="#595959"/>
<rect x="407.39" y="1565.75" width="14.6" height="1.9" fill="#595959"/>
<line x1="530.97" y1="1519.3" x2="530.97" y2="1544.3" stroke="#595959" stroke-width="1.8"/>
<rect x="523.67" y="1518.35" width="14.6" height="1.9" fill="#595959"/>
<rect x="523.67" y="1543.35" width="14.6" height="1.9" fill="#595959"/>
<line x1="647.25" y1="1495.7" x2="647.25" y2="1520" stroke="#595959" stroke-width="1.8"/>
<rect x="639.95" y="1494.75" width="14.6" height="1.9" fill="#595959"/>
<rect x="639.95" y="1519.05" width="14.6" height="1.9" fill="#595959"/>
<line x1="821.67" y1="1486.2" x2="821.67" y2="1499.7" stroke="#595959" stroke-width="1.8"/>
<rect x="814.37" y="1485.25" width="14.6" height="1.9" fill="#595959"/>
<rect x="814.37" y="1498.75" width="14.6" height="1.9" fill="#595959"/>
<line x1="1170.5" y1="1462" x2="1170.5" y2="1485.3" stroke="#595959" stroke-width="1.8"/>
<rect x="1163.2" y="1461.05" width="14.6" height="1.9" fill="#595959"/>
<rect x="1163.2" y="1484.35" width="14.6" height="1.9" fill="#595959"/>
<line x1="182.14" y1="1660" x2="182.14" y2="1678.3" stroke="#8c8c8c" stroke-width="1"/>
<rect x="174.94" y="1659.4" width="14.4" height="1.2" fill="#8c8c8c"/>
<rect x="174.94" y="1677.7" width="14.4" height="1.2" fill="#8c8c8c"/>
<line x1="298.42" y1="1479.3" x2="298.42" y2="1499" stroke="#8c8c8c" stroke-width="1"/>
<rect x="291.22" y="1478.7" width="14.4" height="1.2" fill="#8c8c8c"/>
<rect x="291.22" y="1498.4" width="14.4" height="1.2" fill="#8c8c8c"/>
<line x1="414.69" y1="1462" x2="414.69" y2="1482.3" stroke="#8c8c8c" stroke-width="1"/>
<rect x="407.49" y="1461.4" width="14.4" height="1.2" fill="#8c8c8c"/>
<rect x="407.49" y="1481.7" width="14.4" height="1.2" fill="#8c8c8c"/>
<line x1="530.97" y1="1450" x2="530.97" y2="1467.7" stroke="#8c8c8c" stroke-width="1"/>
<rect x="523.77" y="1449.4" width="14.4" height="1.2" fill="#8c8c8c"/>
<rect x="523.77" y="1467.1" width="14.4" height="1.2" fill="#8c8c8c"/>
<line x1="821.67" y1="1839.3" x2="821.67" y2="1855" stroke="#8c8c8c" stroke-width="1"/>
<rect x="814.47" y="1838.7" width="14.4" height="1.2" fill="#8c8c8c"/>
<rect x="814.47" y="1854.4" width="14.4" height="1.2" fill="#8c8c8c"/>
<polyline points="124,1869.2 182.14,1636.7 240.28,1527.3 298.42,1446.7 414.69,1451 530.97,1432.3 647.25,1431 821.67,1446 1170.5,1425.9" fill="none" stroke="#0070c0" stroke-width="3.6" stroke-linejoin="round" stroke-linecap="round"/>
<rect x="114.6" y="1859.8" width="18.8" height="18.8" rx="1" fill="#0070c0"/>
<rect x="172.74" y="1627.3" width="18.8" height="18.8" rx="1" fill="#0070c0"/>
<rect x="230.88" y="1517.9" width="18.8" height="18.8" rx="1" fill="#0070c0"/>
<rect x="289.02" y="1437.3" width="18.8" height="18.8" rx="1" fill="#0070c0"/>
<rect x="405.29" y="1441.6" width="18.8" height="18.8" rx="1" fill="#0070c0"/>
<rect x="521.57" y="1422.9" width="18.8" height="18.8" rx="1" fill="#0070c0"/>
<rect x="637.85" y="1421.6" width="18.8" height="18.8" rx="1" fill="#0070c0"/>
<rect x="812.27" y="1436.6" width="18.8" height="18.8" rx="1" fill="#0070c0"/>
<rect x="1161.1" y="1416.5" width="18.8" height="18.8" rx="1" fill="#0070c0"/>
<polyline points="124,1869.2 182.14,1591.7 240.28,1556.7 298.42,1527.7 414.69,1510 530.97,1495 647.25,1481.7 821.67,1465.2 1170.5,1449.6" fill="none" stroke="#375623" stroke-width="3.6" stroke-linejoin="round" stroke-linecap="round"/>
<polygon points="124,1860.2 133,1878.2 115,1878.2" fill="#548235"/>
<polygon points="182.14,1582.7 191.14,1600.7 173.14,1600.7" fill="#548235"/>
<polygon points="240.28,1547.7 249.28,1565.7 231.28,1565.7" fill="#548235"/>
<polygon points="298.42,1518.7 307.42,1536.7 289.42,1536.7" fill="#548235"/>
<polygon points="414.69,1501 423.69,1519 405.69,1519" fill="#548235"/>
<polygon points="530.97,1486 539.97,1504 521.97,1504" fill="#548235"/>
<polygon points="647.25,1472.7 656.25,1490.7 638.25,1490.7" fill="#548235"/>
<polygon points="821.67,1456.2 830.67,1474.2 812.67,1474.2" fill="#548235"/>
<polygon points="1170.5,1440.6 1179.5,1458.6 1161.5,1458.6" fill="#548235"/>
<polyline points="124,1869.2 182.14,1600.7 240.28,1592.3 298.42,1575 414.69,1553.3 530.97,1532.7 647.25,1507.7 821.67,1493 1170.5,1473.3" fill="none" stroke="#7030a0" stroke-width="3.6" stroke-linejoin="round" stroke-linecap="round"/>
<polygon points="124,1860.2 133,1869.2 124,1878.2 115,1869.2" fill="#7030a0"/>
<polygon points="182.14,1591.7 191.14,1600.7 182.14,1609.7 173.14,1600.7" fill="#7030a0"/>
<polygon points="240.28,1583.3 249.28,1592.3 240.28,1601.3 231.28,1592.3" fill="#7030a0"/>
<polygon points="298.42,1566 307.42,1575 298.42,1584 289.42,1575" fill="#7030a0"/>
<polygon points="414.69,1544.3 423.69,1553.3 414.69,1562.3 405.69,1553.3" fill="#7030a0"/>
<polygon points="530.97,1523.7 539.97,1532.7 530.97,1541.7 521.97,1532.7" fill="#7030a0"/>
<polygon points="647.25,1498.7 656.25,1507.7 647.25,1516.7 638.25,1507.7" fill="#7030a0"/>
<polygon points="821.67,1484 830.67,1493 821.67,1502 812.67,1493" fill="#7030a0"/>
<polygon points="1170.5,1464.3 1179.5,1473.3 1170.5,1482.3 1161.5,1473.3" fill="#7030a0"/>
<polyline points="124,1869.2 182.14,1669.3 240.28,1558.3 298.42,1490 414.69,1470.7 530.97,1459 647.25,1448.3 821.67,1438.4 1170.5,1429.4" fill="none" stroke="#c00000" stroke-width="4" stroke-linejoin="round" stroke-linecap="round"/>
<circle cx="124" cy="1869.2" r="7.9" fill="none" stroke="#c00000" stroke-width="2.4"/>
<circle cx="182.14" cy="1669.3" r="7.9" fill="none" stroke="#c00000" stroke-width="2.4"/>
<circle cx="240.28" cy="1558.3" r="7.9" fill="none" stroke="#c00000" stroke-width="2.4"/>
<circle cx="298.42" cy="1490" r="7.9" fill="none" stroke="#c00000" stroke-width="2.4"/>
<circle cx="414.69" cy="1470.7" r="7.9" fill="none" stroke="#c00000" stroke-width="2.4"/>
<circle cx="530.97" cy="1459" r="7.9" fill="none" stroke="#c00000" stroke-width="2.4"/>
<circle cx="647.25" cy="1448.3" r="7.9" fill="none" stroke="#c00000" stroke-width="2.4"/>
<circle cx="821.67" cy="1438.4" r="7.9" fill="none" stroke="#c00000" stroke-width="2.4"/>
<circle cx="1170.5" cy="1429.4" r="7.9" fill="none" stroke="#c00000" stroke-width="2.4"/>
<polyline points="124,1869.2 182.14,1867.7 240.28,1865.7 298.42,1864 414.69,1860 530.97,1856.7 647.25,1853.3 821.67,1846.7 1170.5,1834.3" fill="none" stroke="#000000" stroke-width="3.2" stroke-linejoin="round" stroke-linecap="round"/>
<path d="M116 1861.2L132 1877.2M132 1861.2L116 1877.2M124 1861.2L124 1877.2" stroke="#000000" stroke-width="1.8" fill="none" stroke-linecap="round"/>
<path d="M174.14 1859.7L190.14 1875.7M190.14 1859.7L174.14 1875.7M182.14 1859.7L182.14 1875.7" stroke="#000000" stroke-width="1.8" fill="none" stroke-linecap="round"/>
<path d="M232.28 1857.7L248.28 1873.7M248.28 1857.7L232.28 1873.7M240.28 1857.7L240.28 1873.7" stroke="#000000" stroke-width="1.8" fill="none" stroke-linecap="round"/>
<path d="M290.42 1856L306.42 1872M306.42 1856L290.42 1872M298.42 1856L298.42 1872" stroke="#000000" stroke-width="1.8" fill="none" stroke-linecap="round"/>
<path d="M406.69 1852L422.69 1868M422.69 1852L406.69 1868M414.69 1852L414.69 1868" stroke="#000000" stroke-width="1.8" fill="none" stroke-linecap="round"/>
<path d="M522.97 1848.7L538.97 1864.7M538.97 1848.7L522.97 1864.7M530.97 1848.7L530.97 1864.7" stroke="#000000" stroke-width="1.8" fill="none" stroke-linecap="round"/>
<path d="M639.25 1845.3L655.25 1861.3M655.25 1845.3L639.25 1861.3M647.25 1845.3L647.25 1861.3" stroke="#000000" stroke-width="1.8" fill="none" stroke-linecap="round"/>
<path d="M813.67 1838.7L829.67 1854.7M829.67 1838.7L813.67 1854.7M821.67 1838.7L821.67 1854.7" stroke="#000000" stroke-width="1.8" fill="none" stroke-linecap="round"/>
<path d="M1162.5 1826.3L1178.5 1842.3M1178.5 1826.3L1162.5 1842.3M1170.5 1826.3L1170.5 1842.3" stroke="#000000" stroke-width="1.8" fill="none" stroke-linecap="round"/>
<line x1="290" y1="2000.7" x2="356.7" y2="2000.7" stroke="#0070c0" stroke-width="3.4"/>
<rect x="314.15" y="1991.5" width="18.4" height="18.4" rx="1" fill="#0070c0"/>
<text transform="translate(361.65 2009.3) scale(0.97 1)" font-family='"Liberation Sans", sans-serif' font-size="26" fill="#595959">CO</text>
<line x1="420" y1="2000.7" x2="486.7" y2="2000.7" stroke="#375623" stroke-width="3.4"/>
<polygon points="453.35,1991.2 462.85,2010.2 443.85,2010.2" fill="#548235"/>
<text transform="translate(491.52 2009.3) scale(1.04 1)" font-family='"Liberation Sans", sans-serif' font-size="26" fill="#595959">KN</text>
<line x1="549.3" y1="2000.7" x2="616" y2="2000.7" stroke="#7030a0" stroke-width="3.4"/>
<polygon points="582.65,1990.7 592.65,2000.7 582.65,2010.7 572.65,2000.7" fill="#7030a0"/>
<text transform="translate(621.41 2009.3) scale(1.11 1)" font-family='"Liberation Sans", sans-serif' font-size="26" fill="#595959">PM</text>
<line x1="685" y1="2000.7" x2="751.7" y2="2000.7" stroke="#c00000" stroke-width="3.4"/>
<circle cx="718.35" cy="2000.7" r="8" fill="none" stroke="#c00000" stroke-width="2.4"/>
<text transform="translate(756 2009.3) scale(1 1)" font-family='"Liberation Sans", sans-serif' font-size="26" fill="#595959">T</text>
<line x1="794" y1="2000.7" x2="860.7" y2="2000.7" stroke="#000000" stroke-width="3.4"/>
<path d="M819.35 1992.7L835.35 2008.7M835.35 1992.7L819.35 2008.7M827.35 1992.7L827.35 2008.7" stroke="#000000" stroke-width="2.2" fill="none" stroke-linecap="round"/>
<text transform="translate(866.51 2009.3) scale(1.05 1)" font-family='"Liberation Sans", sans-serif' font-size="26" fill="#595959">ME</text>
</svg></body></html>
